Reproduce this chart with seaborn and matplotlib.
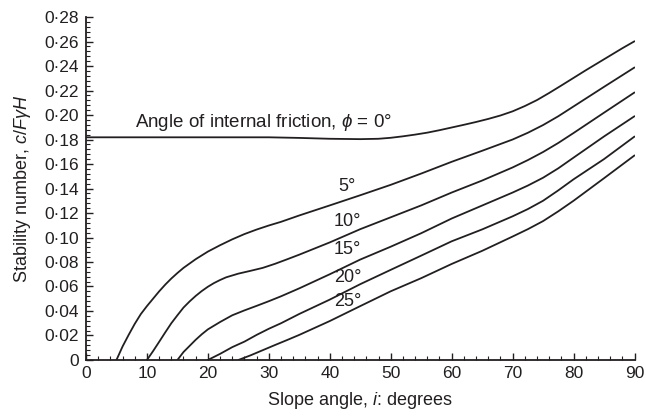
import matplotlib
matplotlib.use("Agg")
import matplotlib.pyplot as plt
import matplotlib.ticker as mticker
import pandas as pd
import seaborn as sns

# Slope angle i (degrees) and stability number c/(F*gamma*H) for each friction angle
phi0_i = [0, 10, 20, 30, 35, 40, 45, 48, 50, 52, 54, 56, 58, 60, 62, 64, 66, 68,
          70, 72, 74, 76, 78, 80, 82, 84, 86, 88, 90]
phi0_n = [0.1818, 0.1818, 0.1818, 0.1818, 0.1813, 0.1806, 0.1803, 0.1806, 0.1814,
          0.1826, 0.1840, 0.1856, 0.1876, 0.1898, 0.1920, 0.1943, 0.1968, 0.1996,
          0.2030, 0.2073, 0.2122, 0.2180, 0.2241, 0.2303, 0.2365, 0.2425, 0.2485,
          0.2545, 0.2602]

phi5_i = [5, 6, 7, 8, 9, 10, 11, 12, 13, 14, 15, 16, 18, 20, 22, 24, 26, 28, 30,
          32, 35, 40, 45, 50, 55, 60, 65, 70, 72.5, 75, 77.5, 80, 85, 90]
phi5_n = [0.0, 0.0110, 0.0205, 0.0295, 0.0375, 0.0440, 0.0500, 0.0560, 0.0615,
          0.0665, 0.0710, 0.0752, 0.0823, 0.0885, 0.0937, 0.0985, 0.1028, 0.1065,
          0.1098, 0.1128, 0.1180, 0.1262, 0.1345, 0.1430, 0.1522, 0.1618, 0.1708,
          0.1800, 0.1855, 0.1918, 0.1990, 0.2070, 0.2230, 0.2388]

phi10_i = [10, 11, 12, 13, 14, 15, 16, 17, 18, 19, 20, 21, 22, 23, 25, 27, 29, 31,
           33, 35, 40, 45, 50, 55, 60, 65, 70, 72.5, 75, 77.5, 80, 85, 90]
phi10_n = [0.0, 0.0072, 0.0148, 0.0225, 0.0300, 0.0365, 0.0428, 0.0478, 0.0523,
           0.0563, 0.0598, 0.0628, 0.0653, 0.0675, 0.0705, 0.0728, 0.0752, 0.0785,
           0.0822, 0.0860, 0.0960, 0.1068, 0.1165, 0.1262, 0.1367, 0.1465, 0.1572,
           0.1632, 0.1698, 0.1772, 0.1853, 0.2019, 0.2184]

phi15_i = [15, 16, 17, 18, 19, 20, 22, 24, 26, 28, 30, 32, 35, 40, 45, 50, 55,
           60, 65, 70, 72.5, 75, 77.5, 80, 85, 90]
phi15_n = [0.0, 0.0065, 0.0115, 0.0165, 0.0210, 0.0250, 0.0310, 0.0365, 0.0405,
           0.0442, 0.0480, 0.0520, 0.0585, 0.0700, 0.0820, 0.0925, 0.1035, 0.1155,
           0.1261, 0.1367, 0.1424, 0.1488, 0.1565, 0.1652, 0.1825, 0.1990]

phi20_i = [20, 22, 24, 26, 28, 30, 32, 35, 40, 45, 50, 55, 60, 65, 70, 72.5, 75,
           77.5, 80, 85, 90]
phi20_n = [0.0, 0.0050, 0.0105, 0.0150, 0.0205, 0.0255, 0.0300, 0.0376, 0.0493,
           0.0619, 0.0736, 0.0852, 0.0969, 0.1066, 0.1173, 0.1232, 0.1300, 0.1385,
           0.1475, 0.1640, 0.1824]

phi25_i = [25, 27, 29, 31, 33, 35, 40, 45, 50, 55, 60, 65, 70, 72.5, 75, 77.5, 80,
           85, 90]
phi25_n = [0.0, 0.0038, 0.0080, 0.0122, 0.0163, 0.0205, 0.0318, 0.0440, 0.0561,
           0.0668, 0.0784, 0.0891, 0.1008, 0.1068, 0.1134, 0.1214, 0.1300, 0.1484,
           0.1670]

curves = {0: (phi0_i, phi0_n), 5: (phi5_i, phi5_n), 10: (phi10_i, phi10_n),
          15: (phi15_i, phi15_n), 20: (phi20_i, phi20_n), 25: (phi25_i, phi25_n)}

# Curve labels (text, slope angle, stability number)
label_text = ["5°", "10°", "15°", "20°", "25°"]
label_x = [42.9, 42.9, 42.9, 42.9, 42.9]
label_y = [0.1416, 0.1130, 0.0904, 0.0676, 0.0474]

df = pd.concat(
    [pd.DataFrame({"i": xs, "N": ys, "phi": p}) for p, (xs, ys) in curves.items()],
    ignore_index=True,
)

sns.set_theme(style="ticks")
plt.rcParams["font.family"] = ["Liberation Sans", "DejaVu Sans"]
plt.rcParams["mathtext.fontset"] = "custom"
plt.rcParams["mathtext.rm"] = "Liberation Sans"
plt.rcParams["mathtext.it"] = "Liberation Sans:italic"

ink = "#231f20"
fig = plt.figure(figsize=(6.46, 4.17), dpi=100)
ax = fig.add_axes([0.1331, 0.1367, 0.8491, 0.8225])

for p in curves:
    sns.lineplot(data=df[df["phi"] == p], x="i", y="N", color=ink, lw=1.3,
                 sort=False, estimator=None, ax=ax, legend=False)

ax.set_xlim(0, 90)
ax.set_ylim(0, 0.28)
sns.despine(ax=ax)
for s in ("left", "bottom"):
    ax.spines[s].set_linewidth(1.3)
    ax.spines[s].set_color(ink)

ax.xaxis.set_major_locator(mticker.MultipleLocator(10))
ax.xaxis.set_minor_locator(mticker.MultipleLocator(2))
ax.yaxis.set_major_locator(mticker.MultipleLocator(0.02))
ax.yaxis.set_minor_locator(mticker.MultipleLocator(0.004))
ax.yaxis.set_major_formatter(mticker.FuncFormatter(
    lambda v, _: "0" if abs(v) < 1e-9 else f"{v:.2f}".replace(".", "·")))
ax.tick_params(which="major", direction="in", length=5, width=1.0, color=ink,
               labelsize=12.5, labelcolor=ink)
ax.tick_params(axis="x", which="major", pad=4)
ax.tick_params(axis="y", which="major", pad=5)
ax.tick_params(which="minor", direction="in", length=3, width=0.8, color=ink)

ax.set_xlabel("Slope angle, $i$: degrees", fontsize=13, color=ink, labelpad=7)
ax.set_ylabel("Stability number, $c/F\\gamma H$", fontsize=13, color=ink, labelpad=8)

ax.text(8.0, 0.1936, "Angle of internal friction, $\\phi$ = 0°", fontsize=13.5,
        color=ink, ha="left", va="center")
for t, x, y in zip(label_text, label_x, label_y):
    ax.text(x, y, t, fontsize=13, color=ink, ha="center", va="center")

fig.savefig("out.png", dpi=100)
